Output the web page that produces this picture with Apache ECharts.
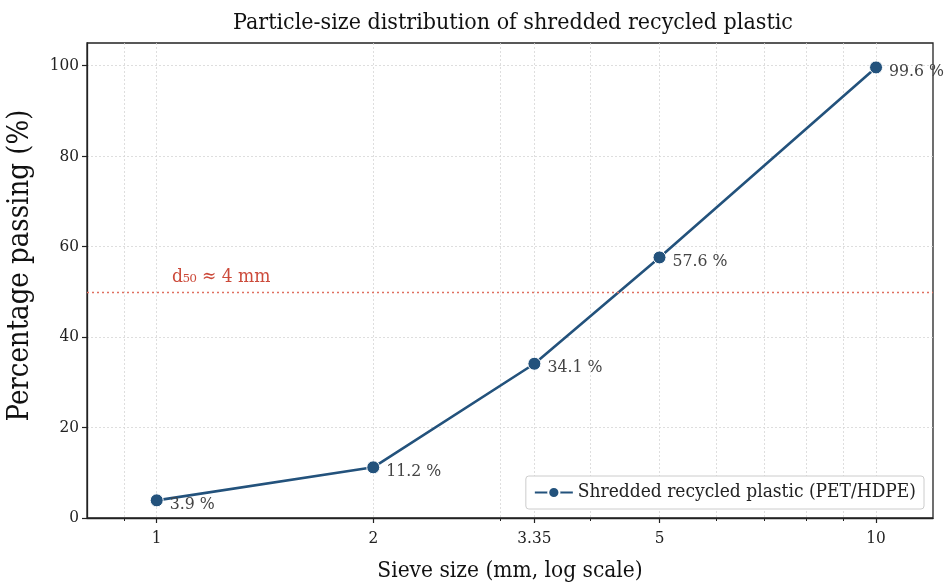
<!DOCTYPE html>
<html><head><meta charset="utf-8">
<script src="https://cdn.jsdelivr.net/npm/echarts@6/dist/echarts.min.js"></script>
<style>html,body{margin:0;padding:0;background:#fff}#c{width:950px;height:582px}</style>
</head><body><div id="c"></div>
<script>
const sieveSizes = [1, 2, 3.35, 5, 10];
const passing = [3.9, 11.2, 34.1, 57.6, 99.6];
const majorTicks = [1, 2, 3.35, 5, 10];
const minorTicks = [0.9, 3, 4, 6, 7, 8, 9];
const yTicks = [0, 20, 40, 60, 80, 100];
const d50Value = 50;
const d50Label = 'd\u2085\u2080 \u2248 4 mm';
const seriesName = 'Shredded recycled plastic (PET/HDPE)';

const FONT = '"DejaVu Serif Condensed", "DejaVu Serif", serif';
const chart = echarts.init(document.getElementById('c'));
const gridStyle = {type: [2, 2], color: '#d6d6d6', width: 0.8};
chart.setOption({
  animation: false,
  title: {text: 'Particle-size distribution of shredded recycled plastic', left: 508, top: 7, textAlign: 'center',
    textStyle: {fontFamily: FONT, fontSize: 23, fontWeight: 'normal', color: '#111'}},
  grid: {left: 87, right: 17, top: 43, bottom: 64, outerBoundsMode: 'none', containLabel: false,
    show: true, borderColor: '#222', borderWidth: 1.3, backgroundColor: 'transparent'},
  legend: {right: 26, bottom: 73, data: [seriesName], backgroundColor: '#fff', borderColor: '#ccc', borderWidth: 1, borderRadius: 3,
    padding: [7, 8], itemWidth: 38, itemHeight: 14, itemGap: 10,
    textStyle: {fontFamily: FONT, fontSize: 19, color: '#222'}},
  xAxis: [{
    type: 'log', logBase: 10, min: 0.8, max: 12,
    name: 'Sieve size (mm, log scale)', nameLocation: 'middle', nameGap: 42,
    nameTextStyle: {fontFamily: FONT, fontSize: 22.5, color: '#111'},
    axisLine: {show: true, lineStyle: {color: '#222', width: 1.3}},
    axisTick: {show: true, length: 5, inside: false, customValues: majorTicks, lineStyle: {color: '#222', width: 1.2}},
    axisLabel: {customValues: majorTicks, formatter: v => String(v), fontFamily: FONT, fontSize: 17, color: '#222', margin: 12},
    splitLine: {show: true, lineStyle: gridStyle}
  }, {
    type: 'log', logBase: 10, min: 0.8, max: 12, position: 'bottom',
    axisLine: {show: false},
    axisTick: {show: true, length: 3, customValues: minorTicks, lineStyle: {color: '#222', width: 1}},
    axisLabel: {show: false, customValues: minorTicks},
    splitLine: {show: true, lineStyle: gridStyle}
  }],
  yAxis: {
    type: 'value', min: 0, max: 105, interval: 20,
    name: 'Percentage passing (%)', nameLocation: 'middle', nameGap: 52,
    nameTextStyle: {fontFamily: FONT, fontSize: 29, color: '#111', padding: [0, 0, 0, 30]},
    axisLine: {show: true, lineStyle: {color: '#222', width: 1.3}},
    axisTick: {show: true, length: 5, customValues: yTicks, lineStyle: {color: '#222', width: 1.2}},
    axisLabel: {customValues: yTicks, fontFamily: FONT, fontSize: 17, color: '#222', margin: 8},
    splitLine: {show: true, lineStyle: gridStyle}
  },
  series: [{
    name: seriesName, type: 'line', xAxisIndex: 0,
    data: sieveSizes.map((x, i) => [x, passing[i]]),
    symbol: 'circle', symbolSize: 13,
    lineStyle: {color: '#23527c', width: 2.6},
    itemStyle: {color: '#23527c', borderColor: '#fff', borderWidth: 1},
    label: {show: true, position: 'right', distance: 6, offset: [0, 4], formatter: p => p.value[1].toFixed(1) + ' %',
      fontFamily: FONT, fontSize: 17.5, color: '#444'},
    markLine: {silent: true, symbol: 'none', label: {show: false},
      lineStyle: {type: [2, 3], color: '#e07060', width: 1.3},
      data: [{yAxis: d50Value}]},
    markPoint: {silent: true, symbol: 'circle', symbolSize: 0,
      data: [{coord: [1.05, d50Value], value: d50Label}],
      label: {show: true, position: 'right', distance: 0, offset: [0, -15], formatter: d50Label,
        fontFamily: FONT, fontSize: 19, color: '#cc4a3a'}}
  }]
});
</script></body></html>
